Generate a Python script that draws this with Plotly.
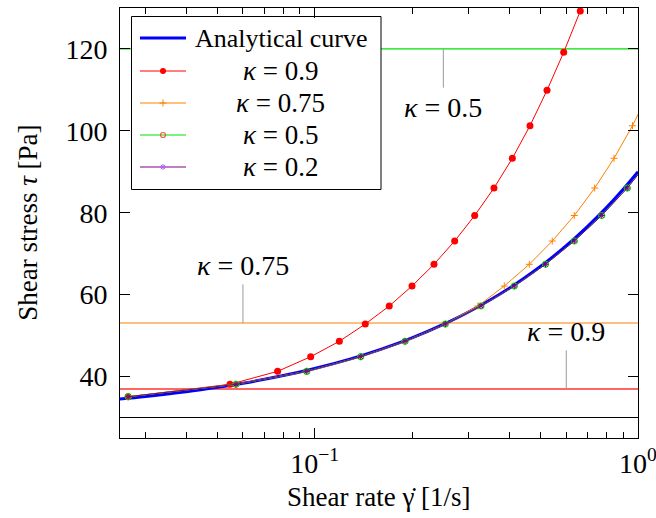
import math
import plotly.graph_objects as go

# Shear stress levels shared by the numerical solutions [Pa]
tau_levels = [35.08, 38.11, 41.28, 44.85, 48.61, 52.83, 57.23, 62.11, 67.41,
              73.10, 79.33, 86.04, 93.30, 101.26, 109.90, 119.18, 129.27, 140.2]

# Shear rates reached for each kappa [1/s]
rate_k09 = [0.0265, 0.0547, 0.0768, 0.0972, 0.1192, 0.1434, 0.1701, 0.2000, 0.2339,
            0.2710, 0.3126, 0.3586, 0.4087, 0.4634, 0.5231, 0.5891, 0.6630, 0.741]
rate_k075 = [0.0265, 0.0571, 0.0945, 0.1388, 0.1903, 0.2535, 0.3199, 0.3859, 0.4611,
             0.5430, 0.6353, 0.7346, 0.8430, 0.9616, 1.089]
rate_k05 = [0.0265, 0.0571, 0.0945, 0.1388, 0.1903, 0.2535, 0.3268, 0.4144, 0.5176,
            0.6353, 0.7721, 0.9267, 1.097]
rate_k02 = [0.0265, 0.0571, 0.0945, 0.1388, 0.1903, 0.2535, 0.3268, 0.4144, 0.5176,
            0.6353, 0.7721, 0.9267, 1.097]

# Analytical flow curve
analytic_rate = [0.025, 0.03, 0.04, 0.05, 0.06, 0.08, 0.1, 0.13, 0.16, 0.2, 0.25,
                 0.3, 0.4, 0.5, 0.6, 0.7, 0.8, 0.9, 1.0]
analytic_tau = [34.53, 35.15, 36.30, 37.37, 38.37, 40.24, 41.97, 44.38, 46.63, 49.45,
                52.74, 55.83, 61.59, 66.93, 71.96, 76.74, 81.32, 85.73, 90.0]

# Yield stress and validity limits of each kappa [Pa]
yield_stress = 30.0
limit_labels = ["κ = 0.9", "κ = 0.75", "κ = 0.5"]
limit_tau = [36.96, 53.08, 120.0]
limit_pin_rate = [0.6, 0.06, 0.25]
limit_text_tau = [50.9, 67.2, 105.7]

x_range = [0.025, 1.0]
y_range = [25, 130]
y_ticks = [40, 60, 80, 100, 120]

FONT = "Times New Roman, Liberation Serif, DejaVu Serif, serif"
C_RED, C_ORANGE, C_GREEN, C_PURPLE, C_BLUE = "#ff0000", "#ff8000", "#00e000", "#800080", "#0000ff"

fig = go.Figure()

fig.add_trace(go.Scatter(x=analytic_rate, y=analytic_tau, mode="lines",
                         line=dict(color=C_BLUE, width=3, shape="spline"), showlegend=False))
fig.add_trace(go.Scatter(x=rate_k09, y=tau_levels[:len(rate_k09)], mode="lines+markers",
                         line=dict(color=C_RED, width=1),
                         marker=dict(symbol="circle", size=7, color=C_RED), showlegend=False))
fig.add_trace(go.Scatter(x=rate_k075, y=tau_levels[:len(rate_k075)], mode="lines+markers",
                         line=dict(color=C_ORANGE, width=1),
                         marker=dict(symbol="cross-thin", size=5, line=dict(color=C_ORANGE, width=1)),
                         showlegend=False))
fig.add_trace(go.Scatter(x=rate_k05, y=tau_levels[:len(rate_k05)], mode="lines+markers",
                         line=dict(color=C_GREEN, width=1),
                         marker=dict(symbol="circle-open", size=6, line=dict(color=C_GREEN, width=1.2)),
                         showlegend=False))
fig.add_trace(go.Scatter(x=rate_k02, y=tau_levels[:len(rate_k02)], mode="lines+markers",
                         line=dict(color=C_PURPLE, width=1),
                         marker=dict(symbol="asterisk-open", size=5, line=dict(color=C_PURPLE, width=1)),
                         showlegend=False))

# Horizontal reference levels
shapes = []
level_styles = [(yield_stress, "#000000", 1.2),
                (limit_tau[0], "rgba(255,0,0,0.6)", 2),
                (limit_tau[1], C_ORANGE, 1.2),
                (limit_tau[2], C_GREEN, 1.2)]
for lvl, col, w in level_styles:
    shapes.append(dict(type="line", xref="paper", yref="y", x0=0, x1=1, y0=lvl, y1=lvl,
                       line=dict(color=col, width=w), layer="below"))

# Pins with labels marking each limit
pin_len = 9.45
pin_dir = [1, 1, -1]
annotations = []
for lab, lvl, xr, d, ty in zip(limit_labels, limit_tau, limit_pin_rate, pin_dir, limit_text_tau):
    shapes.append(dict(type="line", xref="x", yref="y", x0=xr, x1=xr, y0=lvl, y1=lvl + d * pin_len,
                       line=dict(color="#999999", width=1), layer="below"))
    k, v = lab.split(" = ")
    annotations.append(dict(x=math.log10(xr), y=ty, xref="x", yref="y",
                            text=f"<i>{k}</i> = {v}", showarrow=False,
                            xanchor="center", yanchor="middle",
                            font=dict(family=FONT, size=28, color="black")))

# Legend frame and entries (drawn on a pixel-like overlay axis)
shapes.append(dict(type="rect", xref="x2", yref="y2", x0=131.5, x1=381, y0=16.5, y1=189.5,
                   fillcolor="white", line=dict(color="black", width=1), layer="below"))

legend_rows = [("Analytical curve", C_BLUE, None, 38),
               ("κ = 0.9", C_RED, dict(symbol="circle", size=6, color=C_RED), 71),
               ("κ = 0.75", C_ORANGE, dict(symbol="cross-thin", size=5, line=dict(color=C_ORANGE, width=1)), 103),
               ("κ = 0.5", C_GREEN, dict(symbol="circle-open", size=5, line=dict(color=C_GREEN, width=1.2)), 135),
               ("κ = 0.2", C_PURPLE, dict(symbol="asterisk-open", size=5, line=dict(color=C_PURPLE, width=1)), 167)]
for text, col, mk, yy in legend_rows:
    fig.add_trace(go.Scatter(x=[140, 186], y=[yy, yy], mode="lines", xaxis="x2", yaxis="y2",
                             line=dict(color=col, width=3 if mk is None else 1),
                             showlegend=False, hoverinfo="skip"))
    if mk is not None:
        fig.add_trace(go.Scatter(x=[163], y=[yy], mode="markers", xaxis="x2", yaxis="y2",
                                 marker=mk, showlegend=False, hoverinfo="skip"))
        k, v = text.split(" = ")
        annotations.append(dict(x=280, y=yy, xref="x2", yref="y2", text=f"<i>{k}</i> = {v}",
                                showarrow=False, xanchor="center", yanchor="middle",
                                font=dict(family=FONT, size=27, color="black")))
    else:
        annotations.append(dict(x=193, y=yy, xref="x2", yref="y2", text=text,
                                showarrow=False, xanchor="left", yanchor="middle",
                                font=dict(family=FONT, size=26, color="black")))

# Axis titles
annotations.append(dict(x=0.5, y=-0.137, xref="paper", yref="paper",
                        text="Shear rate γ̇ [1/s]", showarrow=False,
                        xanchor="center", yanchor="middle",
                        font=dict(family=FONT, size=27, color="black")))
annotations.append(dict(x=-0.178, y=0.5, xref="paper", yref="paper",
                        text="Shear stress <i>τ</i> [Pa]", showarrow=False, textangle=-90,
                        xanchor="center", yanchor="middle",
                        font=dict(family=FONT, size=27, color="black")))

fig.update_layout(
    width=656, height=518,
    margin=dict(l=120, r=18, t=8, b=80, autoexpand=False),
    paper_bgcolor="white", plot_bgcolor="white",
    font=dict(family=FONT, color="black"),
    shapes=shapes, annotations=annotations,
    xaxis=dict(type="log", range=[math.log10(x_range[0]), math.log10(x_range[1])],
               automargin=False,
               showline=True, linecolor="black", linewidth=1, mirror="ticks",
               ticks="inside", ticklen=10, tickcolor="black", tickwidth=1,
               tickvals=[0.1, 1], ticktext=["10<sup>−1</sup>", "10<sup>0</sup>"],
               ticklabeloverflow="allow",
               tickfont=dict(family=FONT, size=28, color="black"),
               minor=dict(ticks="inside", ticklen=6, tickcolor="black", tickwidth=1,
                          tickvals=[0.03, 0.04, 0.05, 0.06, 0.07, 0.08, 0.09,
                                    0.2, 0.3, 0.4, 0.5, 0.6, 0.7, 0.8, 0.9]),
               showgrid=False, zeroline=False),
    yaxis=dict(range=y_range, tickvals=y_ticks, automargin=False,
               showline=True, linecolor="black", linewidth=1, mirror="ticks",
               ticks="inside", ticklen=10, tickcolor="black", tickwidth=1,
               ticklabelstandoff=6,
               tickfont=dict(family=FONT, size=28, color="black"),
               showgrid=False, zeroline=False),
    xaxis2=dict(overlaying="x", range=[120, 638], visible=False, anchor="y2"),
    yaxis2=dict(overlaying="y", range=[438, 8], visible=False, anchor="x2"),
)

fig.write_html("out.html")
